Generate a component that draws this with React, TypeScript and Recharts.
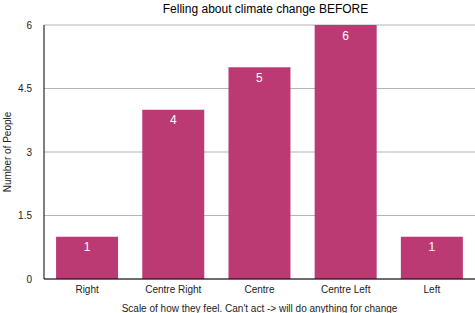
import React from "react";
import { BarChart, Bar, XAxis, YAxis, CartesianGrid, LabelList } from "recharts";

const categories = ["Right", "Centre Right", "Centre", "Centre Left", "Left"];
const people = [1, 4, 5, 6, 1];
const yTicks = [0, 1.5, 3, 4.5, 6];

const data = categories.map((name, i) => ({ name, people: people[i] }));

const font = "'Liberation Sans', Arial, sans-serif";

export default function App() {
  return (
    <div style={{ position: "absolute", left: 0, top: 0, width: 475, height: 313, background: "#fff" }}>
      <div
        style={{
          position: "absolute",
          top: 2,
          left: 56,
          width: 419,
          textAlign: "center",
          fontFamily: font,
          fontSize: 12,
          color: "#000",
        }}
      >
        Felling about climate change BEFORE
      </div>
      <BarChart
        width={475}
        height={313}
        data={data}
        margin={{ top: 25, right: 0, bottom: 0, left: 0 }}
        barCategoryGap="14%"
        style={{ fontFamily: font }}
      >
        <CartesianGrid vertical={false} stroke="#b5b5b5" />
        <XAxis
          dataKey="name"
          height={34}
          tickLine={false}
          axisLine={{ stroke: "#000" }}
          tick={{ fontSize: 10, fill: "#222" }}
          tickMargin={1}
          label={{ value: "Scale of how they feel. Can't act -> will do anything for change", position: "insideBottom", offset: 1, fontSize: 10, fill: "#222" }}
        />
        <YAxis
          width={44}
          domain={[0, 6]}
          ticks={yTicks}
          tickLine={false}
          axisLine={{ stroke: "#000" }}
          tick={{ fontSize: 10, fill: "#222" }}
          tickMargin={6}
          label={{ value: "Number of People", angle: -90, position: "insideLeft", offset: 7, fontSize: 10, fill: "#222", style: { textAnchor: "middle" } }}
        />
        <Bar dataKey="people" fill="#bb3a74" isAnimationActive={false}>
          <LabelList dataKey="people" position="insideTop" offset={6} fill="#fff" fontSize={12} />
        </Bar>
      </BarChart>
    </div>
  );
}
